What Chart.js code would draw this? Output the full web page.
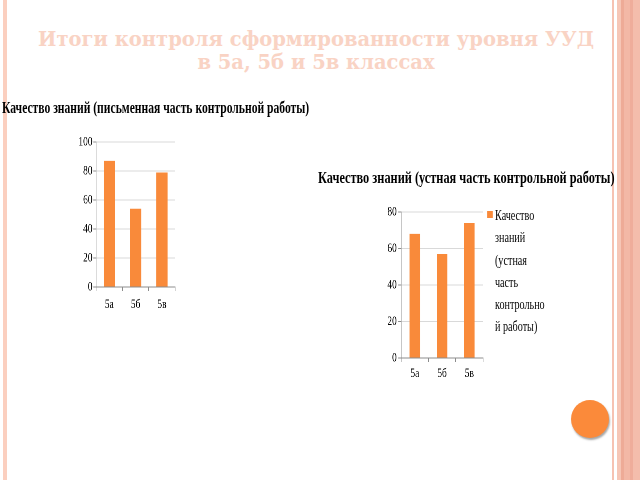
<!DOCTYPE html>
<html>
<head>
<meta charset="utf-8">
<script src="https://cdn.jsdelivr.net/npm/chart.js@4"></script>
<style>
  html, body { margin: 0; padding: 0; background: #fff; }
  #slide { position: relative; width: 640px; height: 480px; overflow: hidden; background: #fff; }
  .stripe { position: absolute; top: 0; height: 480px; }
  #heading {
    position: absolute; left: 0; width: 632px; top: 28px;
    text-align: center; font-family: 'DejaVu Serif'; font-weight: bold;
    font-size: 19.5px; line-height: 23px; color: #f9d3c4;
  }
  .squeeze { position: absolute; transform-origin: 0 0; }
  .ctitle {
    position: absolute; white-space: nowrap; font-family: 'Liberation Serif';
    font-weight: bold; color: #000;
  }
  canvas { position: absolute; }
  #legend {
    position: absolute; font-family: 'Liberation Serif'; font-size: 14px;
    line-height: 22.3px; color: #000;
  }
  #legend .box { position: absolute; left: 0; top: 0; height: 7px; }
  #legend .txt { position: absolute; top: -6px; overflow-wrap: anywhere; }
  #dot {
    position: absolute; left: 571px; top: 400px; width: 38px; height: 38px;
    border-radius: 50%; background: #fb8a3a; box-shadow: 1px 2px 2px rgba(0,0,0,0.35);
  }
</style>
</head>
<body>
<div id="slide">
  <div class="stripe" style="left:3px;width:4px;background:#fbcfbf"></div>
  <div class="stripe" style="left:612px;width:2px;background:#f6c2b2"></div>
  <div class="stripe" style="left:617px;width:23px;background:linear-gradient(to right,#f6c6b6 0,#f6c6b6 4px,#eeab97 4px,#eeab97 7px,#f3b8a6 7px,#f3b8a6 13px,#efad9b 13px,#efad9b 16px,#f4bdac 16px)"></div>

  <div id="heading">Итоги контроля сформированности уровня УУД<br>в 5а, 5б и 5в классах</div>

  <div class="squeeze" id="leftBox" style="left:0;top:95px;width:300px;height:230px">
    <div class="ctitle" id="leftTitle"></div>
    <canvas id="writtenChart"></canvas>
  </div>

  <div class="squeeze" id="rightBox" style="left:300px;top:160px;width:450px;height:245px">
    <div class="ctitle" id="rightTitle"></div>
    <canvas id="oralChart"></canvas>
    <div id="legend"></div>
  </div>

  <div id="dot"></div>
</div>

<script>
// Data
const classes = ['5а', '5б', '5в'];
const writtenQuality = [87, 54, 79];
const oralQuality = [68, 57, 74];
const writtenTitle = 'Качество знаний (письменная часть контрольной работы)';
const oralTitle = 'Качество знаний (устная часть контрольной работы)';
const oralLegend = 'Качество знаний (устная часть контрольной работы)';
const writtenMax = 100;
const oralMax = 80;
const tickStep = 20;

const barColor = '#f98a3a';
const squeeze = 0.725; // the charts look horizontally squashed, as in the original slide

Chart.defaults.font.family = 'Liberation Serif';
Chart.defaults.color = '#000';

function setSize(canvas, left, top, w, h) {
    canvas.style.left = left + 'px';
    canvas.style.top = top + 'px';
    canvas.style.width = w + 'px';
    canvas.style.height = h + 'px';
}

function makeChart(canvas, values, max, opts) {
    return new Chart(canvas.getContext('2d'), {
        type: 'bar',
        data: {
            labels: classes,
            datasets: [{
                label: opts.label,
                data: values,
                backgroundColor: barColor,
                barPercentage: opts.barPct,
                categoryPercentage: 1
            }]
        },
        options: {
            responsive: false,
            animation: false,
            devicePixelRatio: 2,
            layout: { padding: { top: opts.padTop, right: opts.padRight, bottom: 0, left: 0 } },
            plugins: { legend: { display: false }, tooltip: { enabled: false } },
            scales: {
                x: {
                    afterFit: s => { s.height = opts.xHeight; },
                    grid: { offset: true, drawOnChartArea: false, tickLength: 4, tickColor: '#8c8c8c' },
                    border: { color: '#8c8c8c' },
                    ticks: { font: { size: 13 }, padding: opts.xPad }
                },
                y: {
                    min: 0,
                    max: max,
                    afterFit: s => { s.width = opts.yWidth; },
                    grid: { color: '#d9d9d9', tickLength: 4, tickColor: '#8c8c8c' },
                    border: { color: '#8c8c8c' },
                    ticks: { stepSize: tickStep, font: { size: 13 }, padding: opts.yPad }
                }
            }
        }
    });
}

// Left chart (written part)
const leftBox = document.getElementById('leftBox');
leftBox.style.transform = `scaleX(${squeeze})`;
const leftTitle = document.getElementById('leftTitle');
leftTitle.textContent = writtenTitle;
leftTitle.style.fontSize = '16px';
leftTitle.style.lineHeight = '18px';
leftTitle.style.left = (2 / squeeze) + 'px';
leftTitle.style.top = '4px';

const wCanvas = document.getElementById('writtenChart');
const wW = 140 / squeeze;
wCanvas.width = wW; wCanvas.height = 190;
setSize(wCanvas, 60 / squeeze, 35, wW, 190);
makeChart(wCanvas, writtenQuality, writtenMax, {
    label: writtenTitle,
    barPct: 0.43,
    padTop: 12,
    padRight: wW - 115 / squeeze,
    xHeight: 33,
    xPad: 6,
    yWidth: 36 / squeeze,
    yPad: 1
});

// Right chart (oral part)
const rightBox = document.getElementById('rightBox');
rightBox.style.transform = `scaleX(${squeeze})`;
const rightTitle = document.getElementById('rightTitle');
rightTitle.textContent = oralTitle;
rightTitle.style.fontSize = '17px';
rightTitle.style.lineHeight = '18px';
rightTitle.style.left = (18 / squeeze) + 'px';
rightTitle.style.top = '9px';

const oCanvas = document.getElementById('oralChart');
const oW = 130 / squeeze;
oCanvas.width = oW; oCanvas.height = 205;
setSize(oCanvas, 60 / squeeze, 35, oW, 205);
const oralChart = makeChart(oCanvas, oralQuality, oralMax, {
    label: oralLegend,
    barPct: 0.385,
    padTop: 17,
    padRight: oW - 123 / squeeze,
    xHeight: 42,
    xPad: 4,
    yWidth: 41 / squeeze,
    yPad: 2
});

// Legend built from the dataset, wrapped like the original
const legend = document.getElementById('legend');
legend.style.left = (187 / squeeze) + 'px';
legend.style.top = '51px';
const ds = oralChart.data.datasets[0];
const box = document.createElement('div');
box.className = 'box';
box.style.width = (6 / squeeze) + 'px';
box.style.background = ds.backgroundColor;
const txt = document.createElement('div');
txt.className = 'txt';
txt.style.left = (8 / squeeze) + 'px';
txt.style.width = '70px';
txt.textContent = ds.label;
legend.appendChild(box);
legend.appendChild(txt);
</script>
</body>
</html>
